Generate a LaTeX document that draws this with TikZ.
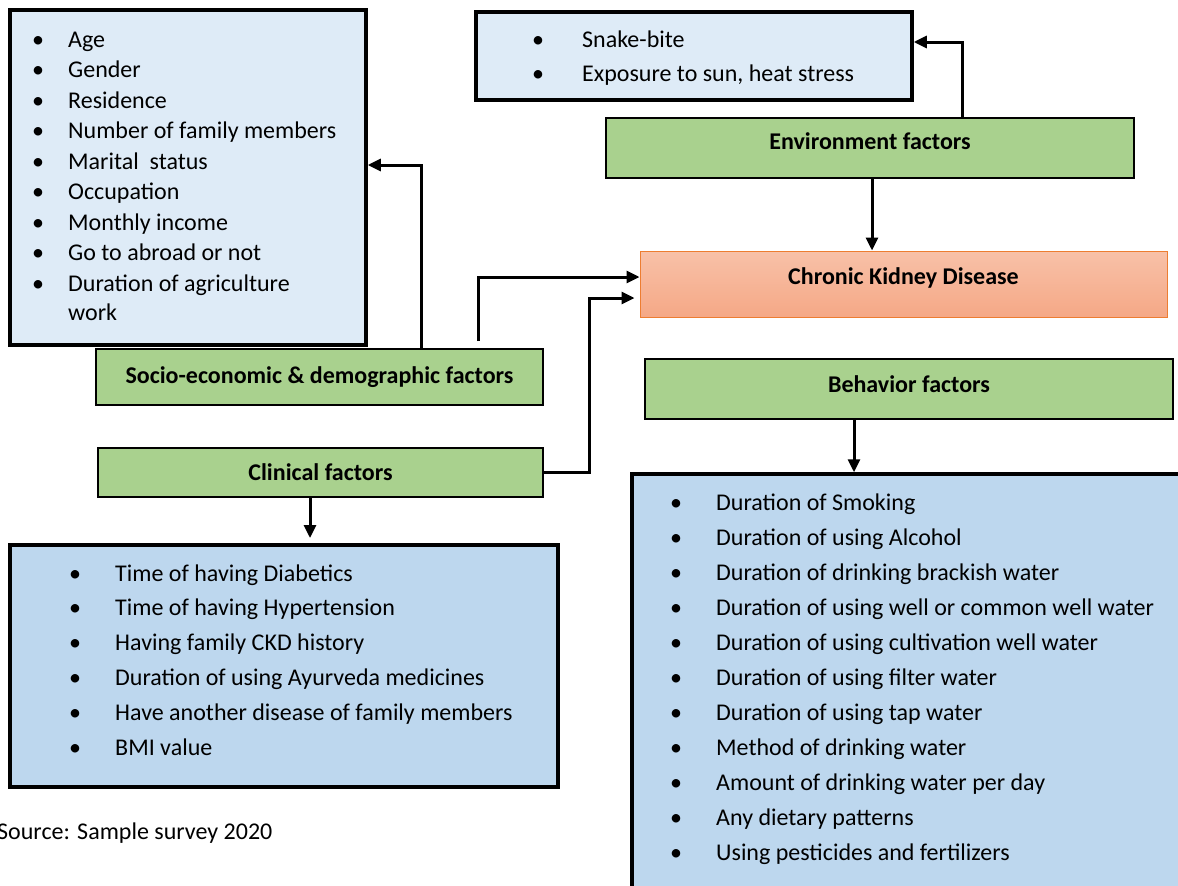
\documentclass[tikz,border=0pt]{standalone}
\usepackage{fontspec}
\setmainfont{Carlito}
\usetikzlibrary{arrows.meta,positioning}

\definecolor{listlight}{HTML}{DEEBF7}
\definecolor{listblue}{HTML}{BDD7EE}
\definecolor{factgreen}{HTML}{A9D18E}
\definecolor{ckdtop}{HTML}{F8C1A8}
\definecolor{ckdbot}{HTML}{F5A886}
\definecolor{ckdline}{HTML}{ED7D31}

\begin{document}
\begin{tikzpicture}[
    x=1pt, y=-1pt,
    font=\fontsize{24}{29}\selectfont,
    >={Triangle[length=13pt,width=12pt]},
    listbox/.style={draw, line width=3.5pt, inner sep=0pt},
    light/.style={listbox, fill=listlight},
    dark/.style={listbox, fill=listblue},
    factor/.style={draw, line width=2pt, fill=factgreen, inner sep=0pt,
                   font=\fontsize{24}{29}\selectfont\bfseries},
    ckdbox/.style={draw=ckdline, line width=1pt, top color=ckdtop, bottom color=ckdbot,
                   inner sep=0pt, font=\fontsize{24}{29}\selectfont\bfseries},
    item/.style={anchor=base west, inner sep=0pt},
    dot/.style={anchor=base, inner sep=0pt},
    arr/.style={->, line width=3pt}
]
    \useasboundingbox (0,0) rectangle (1178,886);
    \clip (0,0) rectangle (1178,886);

    % list boxes
    \node[light, minimum width=356pt, minimum height=335pt] (slist) at (188,177.5) {};
    \node[light, minimum width=436pt, minimum height=88pt] (elist) at (694,56) {};
    \node[dark, minimum width=548pt, minimum height=242pt] (clist) at (284,666) {};
    \node[dark, minimum width=568pt, minimum height=436pt] (blist) at (916,692) {};

    % factor boxes
    \node[factor, minimum width=528pt, minimum height=60pt, text depth=14pt] (env) at (870,148) {Environment factors};
    \node[ckdbox, minimum width=527pt, minimum height=66pt, text depth=16pt] (ckd) at (903.5,284) {Chronic Kidney Disease};
    \node[factor, minimum width=447pt, minimum height=56pt] (socio) at (319.5,377) {Socio-economic \& demographic factors};
    \node[factor, minimum width=528pt, minimum height=60pt, text depth=9pt] (beh) at (909,389) {Behavior factors};
    \node[factor, minimum width=445pt, minimum height=49pt] (clin) at (320.5,472.5) {Clinical factors};

    % socio-economic items
    \foreach \txt [count=\i from 0] in {Age, Gender, Residence, Number of family members,
        Marital~ status, Occupation, Monthly income, Go to abroad or not, Duration of agriculture} {
        \node[dot] (sb\i) at (38, 47+30.5*\i) {\textbullet};
        \node[item] (s\i) at (68, 47+30.5*\i) {\txt};
    }
    \node[item] (swork) at (68,320) {work};

    % environment items
    \foreach \txt [count=\i from 0] in {Snake-bite, {Exposure to sun, heat stress}} {
        \node[dot] (eb\i) at (538, 47+34*\i) {\textbullet};
        \node[item] (e\i) at (582, 47+34*\i) {\txt};
    }

    % clinical items
    \foreach \txt [count=\i from 0] in {Time of having Diabetics, Time of having Hypertension,
        Having family CKD history, Duration of using Ayurveda medicines,
        Have another disease of family members, BMI value} {
        \node[dot] (cb\i) at (75, 581+34.8*\i) {\textbullet};
        \node[item] (c\i) at (115, 581+34.8*\i) {\txt};
    }

    % behavior items
    \foreach \txt [count=\i from 0] in {Duration of Smoking, Duration of using Alcohol,
        Duration of drinking brackish water, Duration of using well or common well water,
        Duration of using cultivation well water, Duration of using filter water,
        Duration of using tap water, Method of drinking water, Amount of drinking water per day,
        Any dietary patterns, Using pesticides and fertilizers} {
        \node[dot] (bb\i) at (676, 510+35*\i) {\textbullet};
        \node[item] (b\i) at (716, 510+35*\i) {\txt};
    }

    \node[item] (src) at (-3,839) {Source: Sample survey 2020};

    % connectors
    \draw[arr] ([xshift=101.5pt]socio.north) |- ([yshift=12.5pt]slist.east);
    \draw[arr] ([xshift=158.5pt,yshift=7pt]socio.north) |- ([yshift=7pt]ckd.west);
    \draw[arr] (clin.east) -- ++(45,0) |- ([xshift=-5pt,yshift=-14pt]ckd.west);
    \draw[arr] ([xshift=92pt]env.north) |- ([yshift=14pt]elist.east);
    \draw[arr] ([xshift=2pt]env.south) -- ([xshift=2pt]env.south |- ckd.north);
    \draw[arr] ([xshift=-55pt]beh.south) -- ([xshift=-55pt]beh.south |- blist.north);
    \draw[arr] ([xshift=-10.5pt]clin.south) -- ++(0,40);
\end{tikzpicture}
\end{document}
